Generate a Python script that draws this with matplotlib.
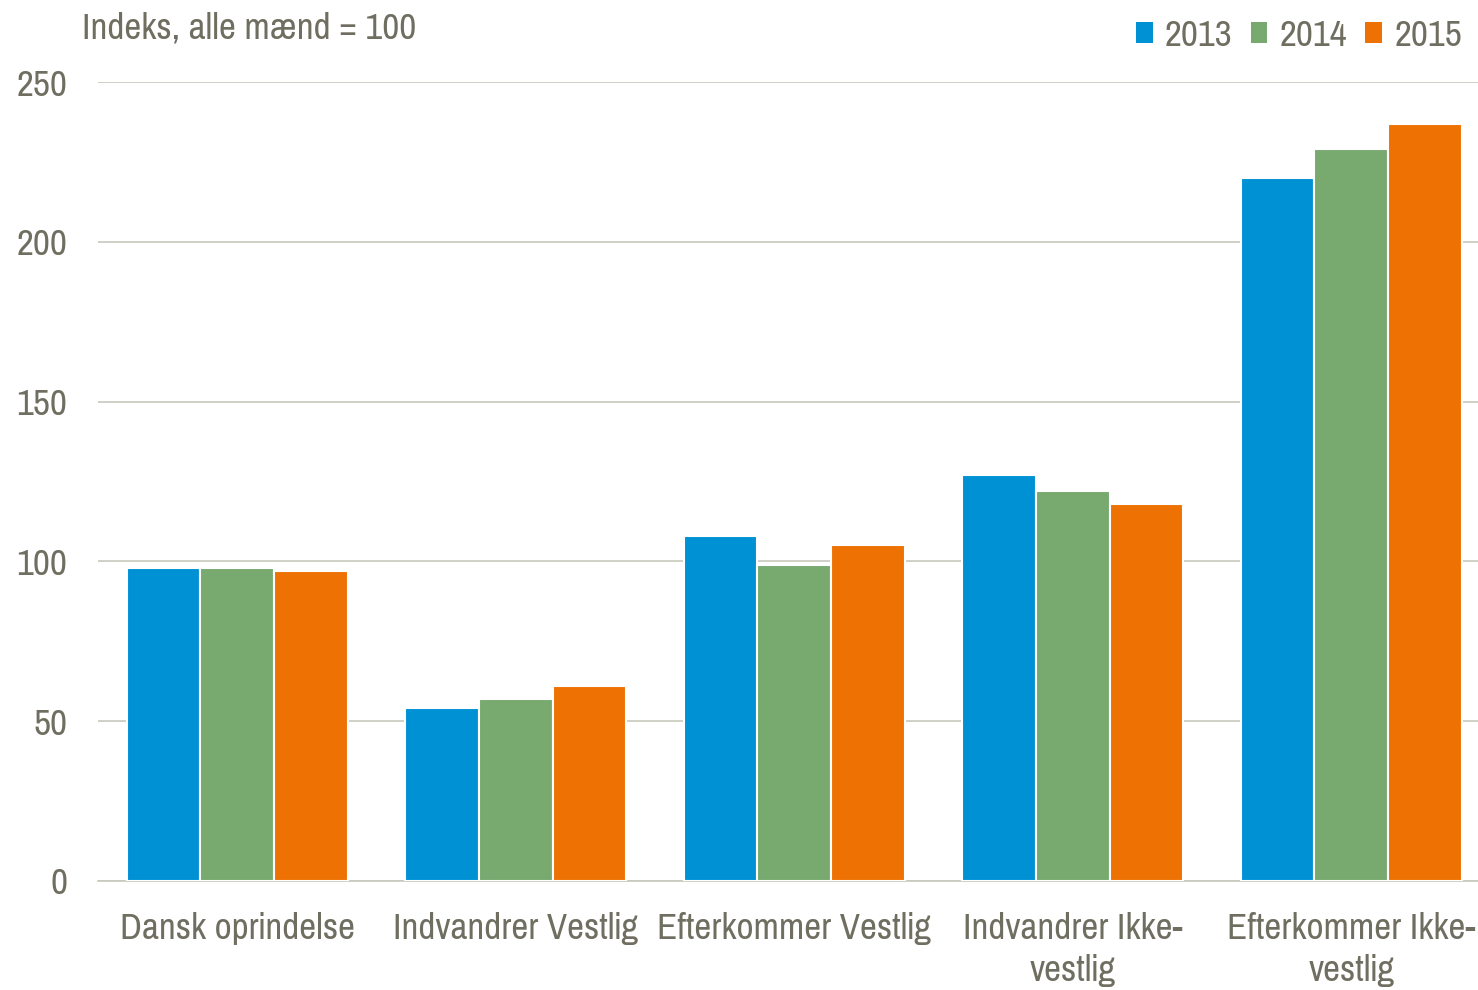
import numpy as np
import matplotlib.pyplot as plt
from matplotlib.patches import Patch

# data
categories = ['Dansk oprindelse', 'Indvandrer Vestlig', 'Efterkommer Vestlig',
              'Indvandrer Ikke-\nvestlig', 'Efterkommer Ikke-\nvestlig']
years = ['2013', '2014', '2015']
v2013 = [98, 54, 108, 127, 220]
v2014 = [98, 57, 99, 122, 229]
v2015 = [97, 61, 105, 118, 237]

colors = ['#0091d5', '#78aa70', '#ee7203']
txt = '#6f6e60'
grid_c = '#c8c8bc'

plt.rcParams['font.family'] = ['Pragati Narrow', 'Roboto Condensed', 'Archivo Narrow', 'DejaVu Sans']
fs = 29

fig = plt.figure(figsize=(14.78, 9.90), dpi=100)
# the plot area runs a little past the right edge of the picture
ax = fig.add_axes([98/1478, 109/990, 1392.5/1478, 799/990])

x = np.arange(len(categories))
w = 0.264
for i, (vals, c) in enumerate(zip([v2013, v2014, v2015], colors)):
    ax.bar(x + (i - 1) * w, vals, width=w, color=c, edgecolor='white', linewidth=1.5, zorder=3)

ax.set_xlim(-0.5, 4.5)
ax.set_ylim(0, 250)
ax.set_yticks([0, 50, 100, 150, 200, 250])
ax.yaxis.grid(True, color=grid_c, linewidth=1.2, zorder=0)
for s in ['top', 'right', 'left']:
    ax.spines[s].set_visible(False)
ax.spines['bottom'].set_color(grid_c)
ax.spines['bottom'].set_linewidth(1.2)
ax.tick_params(axis='y', length=0, pad=22, labelsize=fs, labelcolor=txt)
ax.tick_params(axis='x', length=0, pad=22, labelsize=fs, labelcolor=txt)
ax.set_xticks(x)
ax.set_xticklabels(categories, linespacing=1.35)

fig.text(82/1478, 1 - 28/990, 'Indeks, alle mænd = 100', fontsize=fs, color=txt,
         ha='left', va='center')

handles = [Patch(facecolor=c, edgecolor='none') for c in colors]
fig.legend(handles, years, loc='center right', bbox_to_anchor=(1462/1478, 1 - 36/990),
           ncol=3, frameon=False, fontsize=fs, labelcolor=txt,
           handlelength=0.42, handleheight=0.42, handletextpad=0.3, columnspacing=0.45,
           borderpad=0, borderaxespad=0)

fig.savefig('out.png', dpi=100)
